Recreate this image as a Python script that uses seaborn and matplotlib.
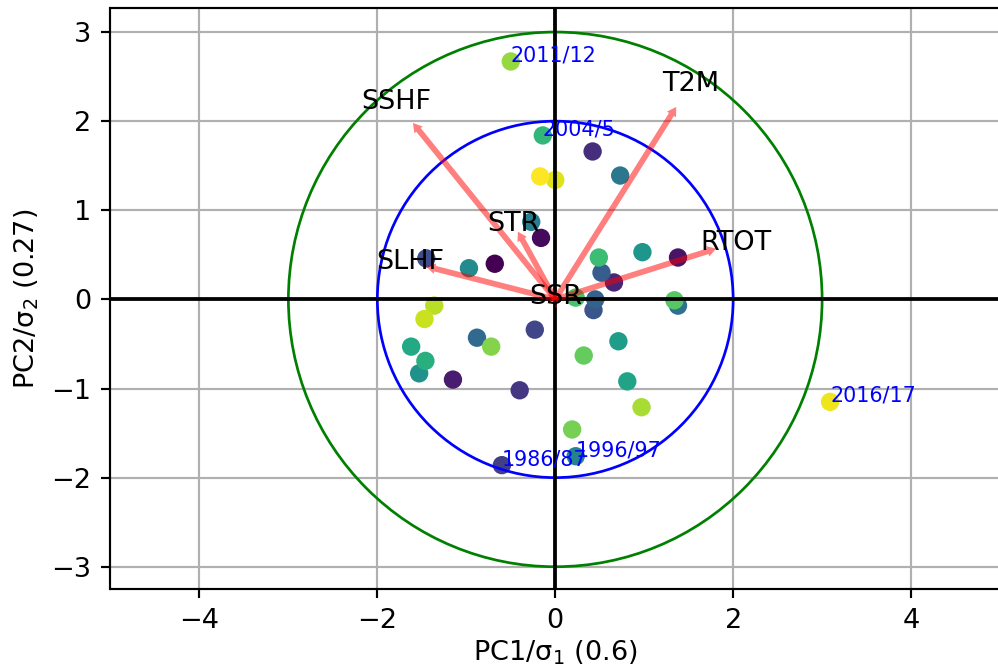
import numpy as np
import pandas as pd
import matplotlib
matplotlib.use("Agg")
import matplotlib.pyplot as plt
import seaborn as sns
from matplotlib.patches import Circle

# ---- data: seasons (start year) and their PC scores ----
season_start = list(range(1979, 2018))
pc1 = [-0.68, -0.16, 1.38, -1.15, 0.66, 0.42, -0.40, -0.60, -0.23, -1.45,
       0.43, 0.52, 0.45, -0.88, 1.38, 0.73, -0.27, 0.23, -0.97, -1.53,
       0.98, 0.71, 0.81, -1.62, -1.46, -0.14, 0.49, 0.23, 1.34, 0.32,
       0.19, -0.72, -0.50, 0.97, -1.36, -1.47, 0.00, 3.09, -0.17]
pc2 = [0.40, 0.69, 0.47, -0.90, 0.19, 1.66, -1.02, -1.86, -0.34, 0.46,
       -0.12, 0.30, 0.00, -0.43, -0.07, 1.39, 0.87, -1.76, 0.35, -0.83,
       0.53, -0.47, -0.92, -0.53, -0.69, 1.84, 0.47, 0.02, -0.01, -0.63,
       -1.46, -0.53, 2.67, -1.21, -0.07, -0.22, 1.34, -1.15, 1.38]
season_labels = {1986: "1986/87", 1996: "1996/97", 2004: "2004/5",
                 2011: "2011/12", 2016: "2016/17"}

# ---- loadings (arrow tips) ----
variables = ["SSHF", "T2M", "RTOT", "STR", "SLHF", "SSR"]
load_x = [-1.60, 1.36, 1.81, -0.42, -1.45, 0.01]
load_y = [1.98, 2.16, 0.57, 0.76, 0.37, 0.02]

circle_radii = [2, 3]
circle_colors = ["blue", "green"]

x_label = "PC1/σ$_1$ (0.6)"
y_label = "PC2/σ$_2$ (0.27)"

df = pd.DataFrame({"pc1": pc1, "pc2": pc2, "year": season_start})

W, H = 999, 670
DPI = 195
fig = plt.figure(figsize=(W / DPI, H / DPI), dpi=DPI)
ax = fig.add_axes([110.5 / W, 81 / H, (1000 - 110.5) / W, (662 - 81) / H])

ax.grid(True, color="#b0b0b0", linewidth=0.8)
ax.set_axisbelow(True)

sns.scatterplot(data=df, x="pc1", y="pc2", hue="year", palette="viridis",
                s=46, linewidth=0, legend=False, ax=ax, zorder=2)

for r, c in zip(circle_radii, circle_colors):
    ax.add_patch(Circle((0, 0), r, fill=False, color=c, lw=1.0, zorder=2.5))

ax.axhline(0, color="black", lw=1.4, zorder=3)
ax.axvline(0, color="black", lw=1.4, zorder=3)

for name, dx, dy in zip(variables, load_x, load_y):
    ax.arrow(0, 0, dx, dy, width=0.065, head_width=0.12, head_length=0.1,
             length_includes_head=True, color="red", alpha=0.5,
             linewidth=0, zorder=4)
    ax.text(1.12 * dx, 1.12 * dy, name, ha="center", va="center",
            fontsize=10, color="black", zorder=5)

for yr, x, y in zip(season_start, pc1, pc2):
    if yr in season_labels:
        ax.text(x, y, season_labels[yr], color="blue", fontsize=7.6, zorder=5)

ax.set_xlim(-5, 5)
ax.set_ylim(-3.25, 3.27)
ax.set_xticks([-4, -2, 0, 2, 4])
ax.set_yticks([-3, -2, -1, 0, 1, 2, 3])
ax.set_xlabel(x_label, fontsize=10, labelpad=1.5)
ax.set_ylabel(y_label, fontsize=10)

fig.savefig("out.png", dpi=DPI)
